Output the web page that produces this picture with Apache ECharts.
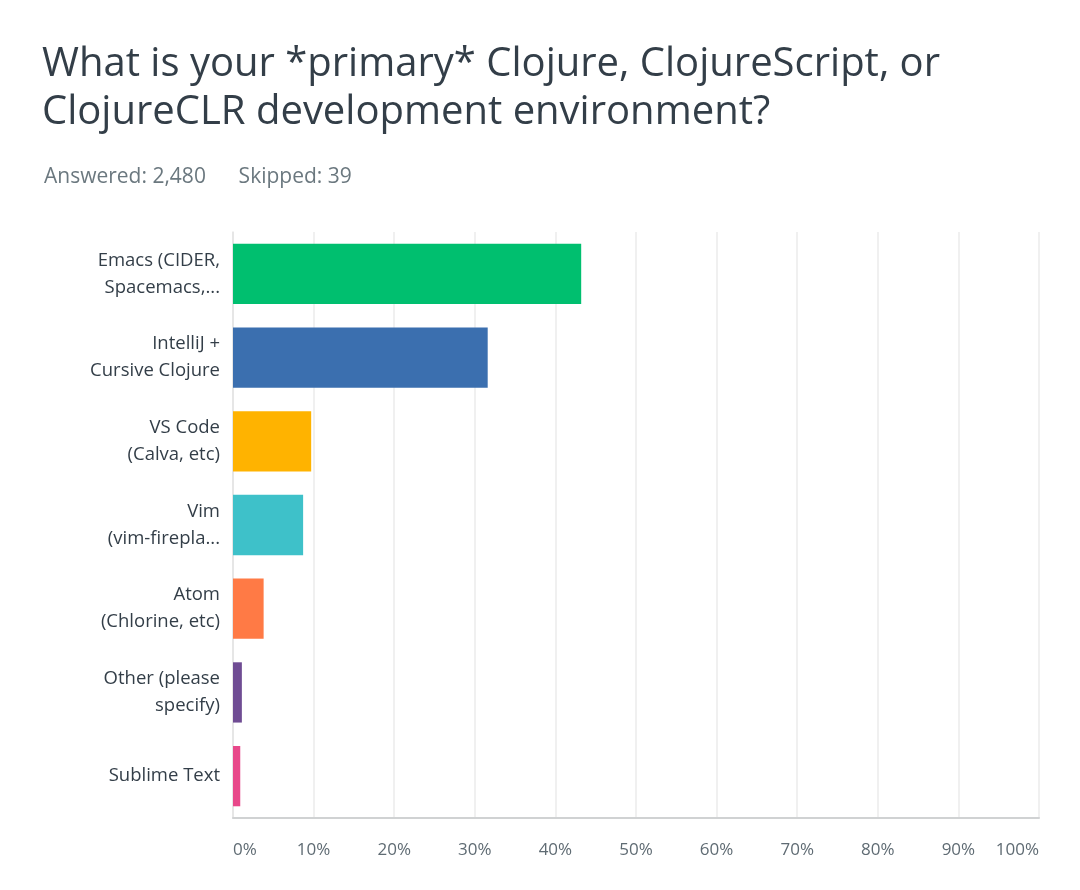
<!DOCTYPE html>
<html>
<head>
<meta charset="utf-8">
<script src="https://cdn.jsdelivr.net/npm/echarts@6/dist/echarts.min.js"></script>
<style>
  html, body { margin: 0; padding: 0; background: #fff; }
  #chart { width: 1080px; height: 890px; }
</style>
</head>
<body>
<div id="chart"></div>
<script>
const categories = [
  'Emacs (CIDER,\nSpacemacs,...',
  'IntelliJ +\nCursive Clojure',
  'VS Code\n(Calva, etc)',
  'Vim\n(vim-firepla...',
  'Atom\n(Chlorine, etc)',
  'Other (please\nspecify)',
  'Sublime Text'
]
const shares = [43.2, 31.6, 9.7, 8.7, 3.8, 1.1, 0.9]
const barColors = ['#00bf6f', '#3b6faf', '#ffb300', '#3ec1c9', '#ff7a45', '#6f4c93', '#e8488a']

const chart = echarts.init(document.getElementById('chart'))

const font = '"Open Sans", "Noto Sans", sans-serif'

chart.setOption({
  backgroundColor: '#fff',
  animation: false,
  title: [
    {
      text: 'What is your *primary* Clojure, ClojureScript, or\nClojureCLR development environment?',
      left: 37,
      top: 36,
      textStyle: {
        color: '#333e48',
        fontFamily: font,
        fontWeight: 'normal',
        fontSize: 40,
        lineHeight: 48
      }
    },
    {
      text: 'Answered: 2,480      Skipped: 39',
      left: 39,
      top: 162,
      textStyle: {
        color: '#6b787f',
        fontFamily: font,
        fontWeight: 'normal',
        fontSize: 21
      }
    }
  ],
  grid: {
    left: 233,
    right: 41,
    top: 232,
    bottom: 72
  },
  xAxis: {
    type: 'value',
    min: 0,
    max: 100,
    interval: 10,
    axisLine: {
      show: true,
      lineStyle: { color: '#d0d2d3', width: 2 }
    },
    axisTick: { show: false },
    axisLabel: {
      formatter: '{value}%',
      color: '#5f6b73',
      fontFamily: font,
      fontSize: 17,
      margin: 24,
      alignMinLabel: 'left',
      alignMaxLabel: 'right'
    },
    splitLine: {
      show: true,
      lineStyle: { color: '#ebebeb', width: 1.5 }
    }
  },
  yAxis: {
    type: 'category',
    data: categories,
    inverse: true,
    axisLine: {
      show: true,
      lineStyle: { color: '#e3e3e3', width: 1.5 }
    },
    axisTick: { show: false },
    axisLabel: {
      color: '#333e48',
      fontFamily: font,
      fontSize: 18.5,
      fontWeight: 500,
      lineHeight: 27,
      margin: 13,
      align: 'right'
    }
  },
  series: [
    {
      type: 'bar',
      data: shares.map((v, i) => ({ value: v, itemStyle: { color: barColors[i] } })),
      barCategoryGap: '28%',
      silent: true
    }
  ]
})
</script>
</body>
</html>
